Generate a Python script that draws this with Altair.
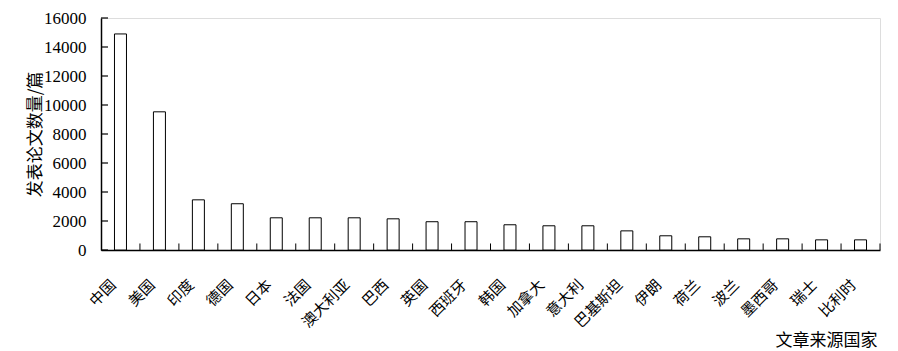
import altair as alt
import pandas as pd

countries = ["中国", "美国", "印度", "德国", "日本", "法国", "澳大利亚", "巴西", "英国", "西班牙",
             "韩国", "加拿大", "意大利", "巴基斯坦", "伊朗", "荷兰", "波兰", "墨西哥", "瑞士", "比利时"]
papers = [14900, 9530, 3460, 3190, 2220, 2220, 2220, 2150, 1950, 1950,
          1740, 1670, 1670, 1320, 980, 910, 770, 770, 700, 700]
y_ticks = [0, 2000, 4000, 6000, 8000, 10000, 12000, 14000, 16000]

df = pd.DataFrame({"country": countries, "papers": papers})
tick_df = pd.DataFrame({"v": y_ticks})

W, H = 779, 232
CJK = "Noto Sans CJK SC"
SERIF = "Liberation Serif"

x_scale = alt.Scale(domain=countries, paddingInner=0, paddingOuter=0)
y_scale = alt.Scale(domain=[0, 16000], nice=False)

x_axis = alt.Axis(title="文章来源国家", ticks=False, labelAngle=-45,
                  labelAlign="right", labelBaseline="top", labelPadding=27,
                  labelOffset=-12, labelFont=CJK, labelFontSize=15,
                  labelColor="black", labelOverlap=False,
                  domainColor="black", domainWidth=1.5,
                  titleFont=CJK, titleFontSize=17, titleFontWeight="normal",
                  titleColor="black", titleAnchor="end", titleAlign="right",
                  titleBaseline="alphabetic", titleX=776, titleY=95)
y_axis = alt.Axis(title="发表论文数量/篇", values=y_ticks, format="d",
                  ticks=False, grid=False, labelOverlap=False, tickCount=9,
                  labelFont=SERIF, labelFontSize=17, labelColor="black",
                  labelPadding=15, domainColor="black", domainWidth=1.5,
                  titleFont=CJK, titleFontSize=17, titleFontWeight="normal",
                  titleColor="black", titleAngle=-90, titleAlign="center",
                  titleBaseline="middle", titleX=-66, titleY=116)

bars = alt.Chart(df).mark_bar(size=12, fill="white", stroke="black", strokeWidth=1).encode(
    x=alt.X("country:N", sort=None, scale=x_scale, axis=x_axis),
    y=alt.Y("papers:Q", scale=y_scale, axis=y_axis),
)

x_ticks = alt.Chart(df).mark_rule(color="black", strokeWidth=1).encode(
    x=alt.X("country:N", sort=None, scale=x_scale, bandPosition=1, axis=x_axis),
    y=alt.Y("zero:Q", scale=y_scale, axis=y_axis),
    y2="top:Q",
).transform_calculate(zero="0", top="450")

y_tick_marks = alt.Chart(tick_df).mark_rule(color="black", strokeWidth=1.2).encode(
    y=alt.Y("v:Q", scale=y_scale, axis=y_axis),
    x=alt.value(0),
    x2=alt.value(7),
)

chart = alt.layer(bars, x_ticks, y_tick_marks).properties(
    width=W, height=H,
    autosize=alt.AutoSizeParams(type="none"),
    padding={"left": 101, "top": 18, "right": 18, "bottom": 101},
).configure_view(stroke=None).configure(background="white")

chart.save("out.html", embed_options={"renderer": "svg", "actions": False})
